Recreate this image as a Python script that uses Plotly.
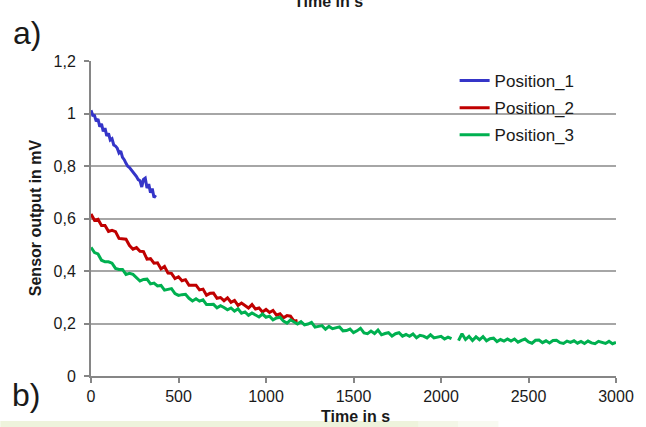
import plotly.graph_objects as go

# ---- measured sensor output (mV) ----
t_pos1 = list(range(0, 371, 10))
pos1 = [
    1.012, 0.993, 0.992, 0.970, 0.979, 0.950, 0.961, 0.932, 0.944, 0.915,
    0.924, 0.899, 0.904, 0.880, 0.876, 0.868, 0.850, 0.857, 0.833, 0.824,
    0.810, 0.799, 0.794, 0.786, 0.774, 0.766, 0.760, 0.748, 0.744, 0.720,
    0.749, 0.754, 0.716, 0.731, 0.698, 0.714, 0.680, 0.689,
]

t_pos2 = list(range(0, 1181, 20))
pos2 = [
    0.617, 0.593, 0.597, 0.573, 0.573, 0.551, 0.555, 0.550, 0.524, 0.523,
    0.521, 0.497, 0.483, 0.489, 0.475, 0.474, 0.445, 0.447, 0.430, 0.431,
    0.408, 0.417, 0.392, 0.391, 0.371, 0.378, 0.363, 0.367, 0.346, 0.346,
    0.346, 0.328, 0.331, 0.308, 0.315, 0.316, 0.296, 0.299, 0.287, 0.298,
    0.281, 0.288, 0.269, 0.278, 0.270, 0.259, 0.272, 0.255, 0.259, 0.244,
    0.254, 0.242, 0.250, 0.232, 0.237, 0.222, 0.230, 0.228, 0.209, 0.212,
]

t_pos3 = list(range(0, 3001, 20))
pos3 = [
    0.490, 0.470, 0.465, 0.441, 0.435, 0.435, 0.430, 0.410, 0.406, 0.406,
    0.387, 0.391, 0.387, 0.375, 0.362, 0.368, 0.369, 0.351, 0.354, 0.343,
    0.345, 0.327, 0.330, 0.333, 0.314, 0.307, 0.310, 0.311, 0.296, 0.286,
    0.294, 0.285, 0.290, 0.272, 0.272, 0.273, 0.260, 0.268, 0.261, 0.252,
    0.259, 0.247, 0.256, 0.239, 0.244, 0.231, 0.240, 0.234, 0.225, 0.236,
    0.224, 0.228, 0.214, 0.221, 0.224, 0.209, 0.201, 0.214, 0.206, 0.198,
    0.207, 0.195, 0.198, 0.204, 0.186, 0.189, 0.192, 0.178, 0.189, 0.180,
    0.183, 0.187, 0.172, 0.173, 0.179, 0.165, 0.172, 0.182, 0.164, 0.161,
    0.171, 0.162, 0.175, 0.157, 0.162, 0.165, 0.152, 0.161, 0.165, 0.152,
    0.158, 0.151, 0.160, 0.146, 0.155, 0.152, 0.145, 0.157, 0.145, 0.147,
    0.151, 0.141, 0.148, 0.142, None, 0.135, 0.161, 0.139, 0.151, 0.135,
    0.149, 0.138, 0.150, 0.134, 0.142, 0.144, 0.131, 0.139, 0.133, 0.141,
    0.133, 0.141, 0.129, 0.136, 0.141, 0.130, 0.125, 0.136, 0.137, 0.127,
    0.134, 0.126, 0.135, 0.136, 0.127, 0.124, 0.133, 0.128, 0.134, 0.125,
    0.132, 0.124, 0.133, 0.126, 0.123, 0.132, 0.128, 0.124, 0.132, 0.123,
    0.128,
]

series = [
    ("Position_1", t_pos1, pos1, "#3535C8"),
    ("Position_2", t_pos2, pos2, "#C00000"),
    ("Position_3", t_pos3, pos3, "#00B050"),
]

y_ticks = [0, 0.2, 0.4, 0.6, 0.8, 1.0, 1.2]
y_tick_text = ["0", "0,2", "0,4", "0,6", "0,8", "1", "1,2"]
x_ticks = [0, 500, 1000, 1500, 2000, 2500, 3000]

W, H = 646, 427
ML, MR, MT, MB = 91, 28, 61, 51
PW, PH = W - ML - MR, H - MT - MB


def px(x):
    return (x - ML) / PW


def py(y):
    return (H - MB - y) / PH


FONT = "Liberation Sans, Arial, sans-serif"
GRID = "#A6A6A6"
AXIS = "#868686"

fig = go.Figure()
for i, (name, t, v, col) in enumerate(series):
    fig.add_trace(go.Scatter(
        x=t, y=v, name=name, mode="lines", legendgroup=str(i),
        line=dict(color=col, width=3),
    ))

fig.update_layout(
    width=W, height=H,
    margin=dict(l=ML, r=MR, t=MT, b=MB),
    paper_bgcolor="white", plot_bgcolor="white",
    font=dict(family=FONT, size=16, color="#1a1a1a"),
    showlegend=True,
    legend=dict(
        x=px(456), y=py(63), xanchor="left", yanchor="top",
        bgcolor="rgba(0,0,0,0)", font=dict(size=17, color="#1a1a1a"),
        tracegroupgap=2, itemwidth=30,
    ),
    xaxis=dict(
        range=[0, 3000], tickvals=x_ticks, showgrid=False, zeroline=False,
        showline=True, linecolor=AXIS, linewidth=2,
        ticks="outside", ticklen=5, tickcolor=AXIS, tickwidth=1.5,
        tickfont=dict(size=16),
    ),
    yaxis=dict(
        range=[0, 1.2], tickvals=y_ticks, ticktext=y_tick_text,
        showgrid=True, gridcolor=GRID, gridwidth=1.5, zeroline=False,
        showline=True, linecolor=AXIS, linewidth=2,
        ticks="outside", ticklen=5, tickcolor=AXIS, tickwidth=1.5,
        tickfont=dict(size=16), ticklabelstandoff=5,
    ),
)

annotations = [
    dict(text="<b>Time in s</b>", x=px(357), y=py(416), font=dict(size=16)),
    dict(text="<b>Time in s</b>", x=px(329), y=py(1), font=dict(size=16)),
    dict(text="<b>Sensor output in mV</b>", x=px(35), y=py(218),
         textangle=-90, font=dict(size=16)),
    dict(text="a)", x=px(27), y=py(33), font=dict(size=32)),
    dict(text="b)", x=px(26), y=py(395), font=dict(size=32)),
]
for a in annotations:
    a.update(xref="paper", yref="paper", showarrow=False,
             xanchor="center", yanchor="middle")
    fig.add_annotation(**a)

# pale strip along the lower page edge
strip = [(0, 420, "#EEF3DC"), (420, 460, "#F3F6E7"), (460, 500, "#F8FAF1")]
for x0, x1, c in strip:
    fig.add_shape(type="rect", xref="paper", yref="paper",
                  x0=px(x0), x1=px(x1), y0=py(427), y1=py(421),
                  fillcolor=c, line_width=0, layer="below")

fig.write_html("out.html")
